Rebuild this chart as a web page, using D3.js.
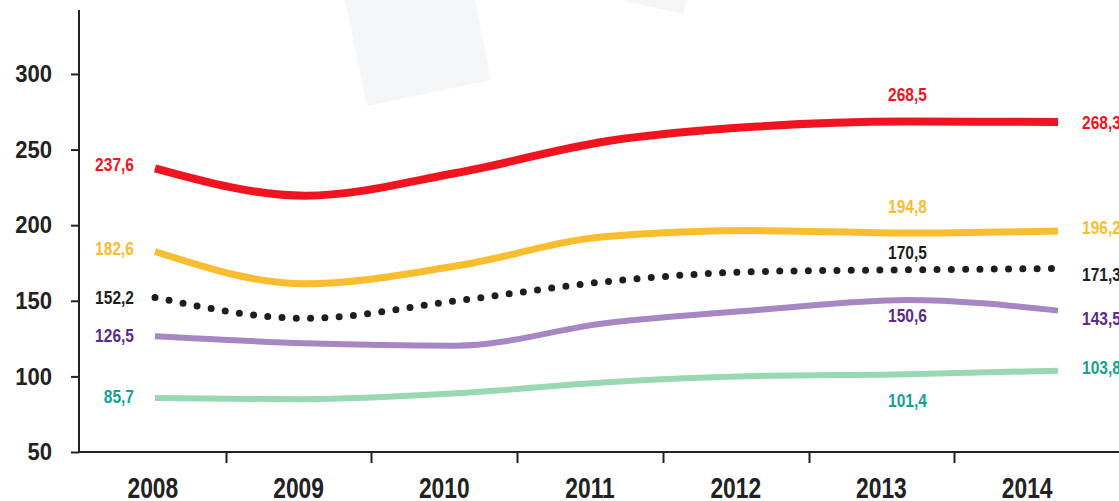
<!DOCTYPE html>
<html>
<head>
<meta charset="utf-8">
<script src="https://cdn.jsdelivr.net/npm/d3@7"></script>
<style>
  html, body { margin: 0; padding: 0; background: #fff; }
  svg { display: block; }
  text { font-family: "Liberation Sans", Arial, sans-serif; font-weight: bold; }
  .axis path, .axis line { stroke: #222; stroke-width: 2; }
  .axis text { fill: #222; }
</style>
</head>
<body>
<svg id="chart"></svg>
<script>
'use strict';

// ---------------------------------------------------------
// DATA
// ---------------------------------------------------------

const years = ['2008', '2009', '2010', '2011', '2012', '2013', '2014'];
const redValues = [237.6, 219.5, 234.5, 255.5, 265.2, 268.5, 268.3];
const yellowValues = [182.6, 161.2, 173.0, 192.5, 196.4, 194.8, 196.2];
const blackValues = [152.2, 138.4, 149.9, 162.7, 169.3, 170.5, 171.3];
const purpleValues = [126.5, 121.9, 120.3, 135.3, 143.9, 150.6, 143.5];
const greenValues = [85.7, 84.9, 88.8, 96.2, 100.3, 101.4, 103.8];
const yTicks = [50, 100, 150, 200, 250, 300];
const labelledYears = ['2008', '2013', '2014'];

// ---------------------------------------------------------
// STYLE / LAYOUT
// ---------------------------------------------------------

const w = 1119, h = 501;

const series = [
  { values: greenValues, line: '#98d8b3', text: '#14a294', width: 6, off: { '2008': -1, '2013': 26, '2014': -3 } },
  { values: purpleValues, line: '#a687c3', text: '#5c2b87', width: 6, off: { '2008': -1, '2013': 16, '2014': 8 } },
  { values: blackValues, line: '#1e1e1e', text: '#1e1e1e', width: 7, dotted: true, off: { '2008': 0, '2013': -17, '2014': 6 } },
  { values: yellowValues, line: '#f9bd30', text: '#f9bd30', width: 7, off: { '2008': -3, '2013': -27, '2014': -3 } },
  { values: redValues, line: '#ef1420', text: '#ef1420', width: 8, off: { '2008': -4, '2013': -27, '2014': 1 } }
];

// condensed look: the narrow font is not available, so squeeze text horizontally
function squeeze(sel, sx) {
  sel.each(function () {
    const t = d3.select(this);
    const tx = +t.attr('x') || 0, ty = +t.attr('y') || 0;
    t.attr('x', null).attr('y', null).attr('transform', `translate(${ tx },${ ty }) scale(${ sx },1)`);
  });
}

const svg = d3.select('#chart').attr('width', w).attr('height', h);

// faint background shapes
svg.append('polygon').attr('points', '345,0 475,0 491,80 367,106').style('fill', '#f5f6f8');
svg.append('polygon').attr('points', '620,0 687,0 683,14').style('fill', '#f5f6f8');

const y = d3.scaleLinear().domain([50, 342.3]).range([452, 10]);
const xLine = d3.scalePoint().domain(years).range([155, 1058]);
const xBand = d3.scaleBand().domain(years).range([80, 1100]).padding(0);

const fmt = d3.formatLocale({ decimal: ',', thousands: ' ', grouping: [3], currency: ['', ''] }).format('.1f');

// ---------------------------------------------------------
// AXES
// ---------------------------------------------------------

const yAxis = svg.append('g').attr('class', 'axis').attr('transform', 'translate(79,0)')
  .call(d3.axisLeft(y).tickValues(yTicks).tickSize(8).tickPadding(19).tickSizeOuter(0));
yAxis.select('.domain').attr('d', `M0,${ y.range()[1] }V${ y.range()[0] }`);
yAxis.selectAll('text').style('font-size', '24px');
squeeze(yAxis.selectAll('text'), 0.92);

const xAxis = svg.append('g').attr('class', 'axis').attr('transform', 'translate(0,452)');
xAxis.append('path').attr('class', 'domain').attr('d', `M78,0H${ w }`);
xAxis.selectAll('line.tick').data(years.slice(1)).enter().append('line')
  .attr('class', 'tick')
  .attr('x1', d => Math.round(xBand(d)) + 0.5).attr('x2', d => Math.round(xBand(d)) + 0.5)
  .attr('y1', 0).attr('y2', 11);
xAxis.selectAll('text').data(years).enter().append('text')
  .attr('x', d => xBand(d) + xBand.bandwidth() / 2)
  .attr('y', 46)
  .attr('text-anchor', 'middle')
  .style('font-size', '30px')
  .text(d => d);
squeeze(xAxis.selectAll('text'), 0.76);

// ---------------------------------------------------------
// LINES
// ---------------------------------------------------------

const line = d3.line().curve(d3.curveMonotoneX).x((d, i) => xLine(years[i])).y(d => y(d));

series.forEach(s => {
  const path = svg.append('path').attr('d', line(s.values))
    .style('fill', 'none').style('stroke', s.line).style('stroke-width', s.width);
  if (s.dotted) {
    path.style('stroke-dasharray', '0 14.3').style('stroke-linecap', 'round');
  }
});

// ---------------------------------------------------------
// VALUE LABELS
// ---------------------------------------------------------

const labels = svg.append('g');
series.forEach(s => {
  labelledYears.forEach(yr => {
    const i = years.indexOf(yr);
    const v = s.values[i];
    let xPos = xLine(yr), anchor = 'middle';
    if (i === 0) { xPos -= 21; anchor = 'end'; }
    if (i === years.length - 1) { xPos += 24; anchor = 'start'; }
    labels.append('text')
      .attr('x', xPos)
      .attr('y', y(v) + s.off[yr])
      .attr('dy', '0.35em')
      .attr('text-anchor', anchor)
      .style('font-size', '18.5px')
      .style('fill', s.text)
      .text(fmt(v));
  });
});
squeeze(labels.selectAll('text'), 0.84);
</script>
</body>
</html>
